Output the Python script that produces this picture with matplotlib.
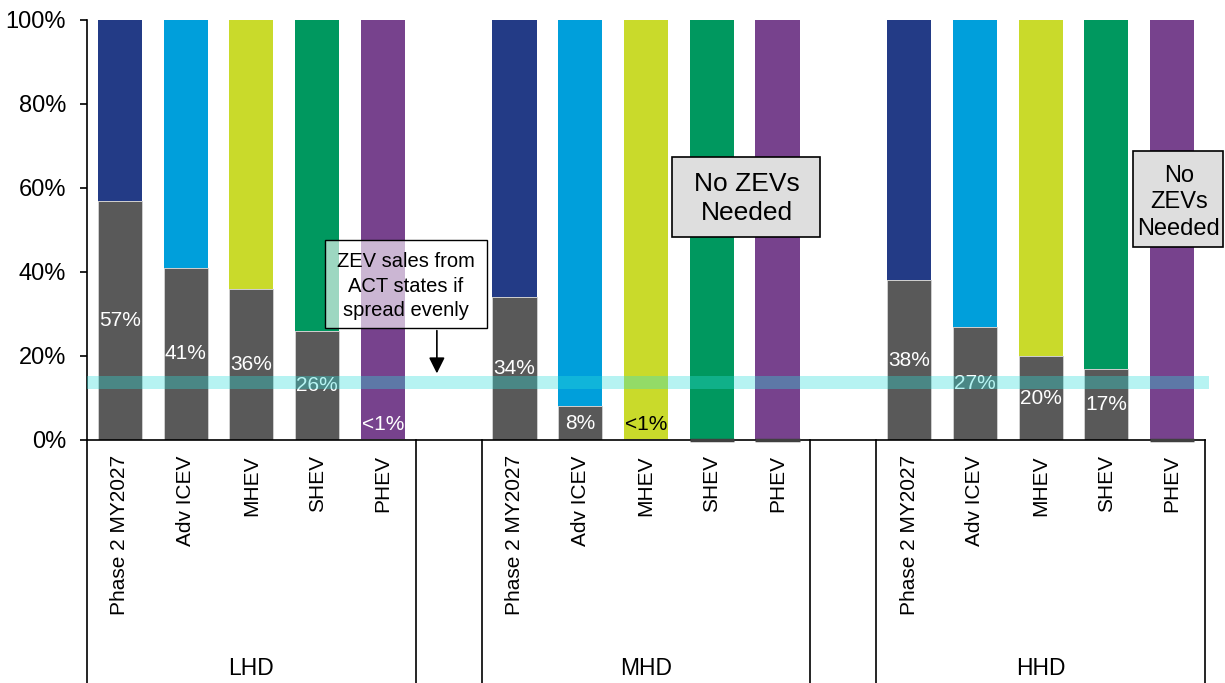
import matplotlib.pyplot as plt
import matplotlib.transforms as mtransforms
from matplotlib.patches import Rectangle
from matplotlib.ticker import FuncFormatter

plt.rcParams['font.family'] = ['Liberation Sans', 'DejaVu Sans']

# categories
groups = ['LHD', 'MHD', 'HHD']
techs = ['Phase 2 MY2027', 'Adv ICEV', 'MHEV', 'SHEV', 'PHEV']
tech_colors = ['#233b86', '#009fdb', '#c9da2b', '#00985f', '#77428d']

# ZEV share (%) per group, one value per tech
zev_lhd = [57, 41, 36, 26, 0.3]
zev_mhd = [34, 8, 0.3, 0, 0]
zev_hhd = [38, 27, 20, 17, 0]

lab_lhd = ['57%', '41%', '36%', '26%', '<1%']
lab_mhd = ['34%', '8%', '<1%', '', '']
lab_hhd = ['38%', '27%', '20%', '17%', '']

# ACT-state ZEV sales band (%)
act_low, act_high = 12.1, 15.2

zev_all = [zev_lhd, zev_mhd, zev_hhd]
lab_all = [lab_lhd, lab_mhd, lab_hhd]

fig = plt.figure(figsize=(12.25, 6.83), dpi=100)
ax = fig.add_axes([87 / 1225, 1 - 440 / 683, (1205 - 87) / 1225, 420 / 683])

gray = '#595959'
width = 0.67
xticks, xlabels = [], []
for g, (zev, labs) in enumerate(zip(zev_all, lab_all)):
    for i, (z, lab) in enumerate(zip(zev, labs)):
        x = g * 6 + i
        ax.bar(x, z, width, color=gray, edgecolor='#cfcfcf', linewidth=0.7, zorder=2)
        ax.bar(x, 100 - z, width, bottom=z, color=tech_colors[i], linewidth=0, zorder=2)
        if z == 0:
            # empty ZEV segment still leaves a thin dark base
            ax.plot([x - width / 2, x + width / 2], [0, 0], color='#404040', lw=2.5,
                    solid_capstyle='butt', clip_on=False, zorder=3)
        if lab:
            ypos = z / 2 if z >= 5 else 3.8
            col = 'black' if (g == 1 and i == 2) else 'white'
            ax.text(x, ypos, lab, ha='center', va='center', fontsize=15, color=col, zorder=4)
        xticks.append(x)
        xlabels.append(techs[i])

# translucent band for ACT-state ZEV sales
band = ax.axhspan(act_low, act_high, xmin=0, xmax=1.004, color='#2fdfda', alpha=0.35,
                  lw=0, zorder=5)
band.set_clip_on(False)

ax.set_xlim(-0.5, 16.5)
ax.set_ylim(0, 100)
ax.set_yticks(range(0, 101, 20))
ax.yaxis.set_major_formatter(FuncFormatter(lambda v, p: f'{v:.0f}%'))
ax.tick_params(axis='y', length=5, width=1.2, pad=10, labelsize=17, direction='out')
ax.set_xticks(xticks)
ax.set_xticklabels(xlabels, rotation=90, fontsize=15, va='top', ha='center')
ax.tick_params(axis='x', length=0, pad=11)
for s in ['top', 'right']:
    ax.spines[s].set_visible(False)
ax.spines['left'].set_linewidth(1.2)
ax.spines['bottom'].set_linewidth(1.2)

# group separators and group names below the axis
trans = mtransforms.blended_transform_factory(ax.transData, ax.transAxes)
for xs in [-0.5, 4.5, 5.5, 10.5, 11.5, 16.5]:
    ax.plot([xs, xs], [0, -0.6], transform=trans, color='black', lw=1.2, clip_on=False)
for g, name in enumerate(groups):
    ax.text(g * 6 + 2, -0.543, name, transform=trans, ha='center', va='center',
            fontsize=16.5)

# callout for the band
ax.add_patch(Rectangle((3.12, 26.7), 2.46, 20.9, facecolor=(1, 1, 1, 0.62),
                       edgecolor='black', lw=1, zorder=6))
ax.text(4.35, 36.6, 'ZEV sales from\nACT states if\nspread evenly', ha='center',
        va='center', fontsize=14.5, linespacing=1.37, zorder=7)
ax.annotate('', xy=(4.82, act_high), xytext=(4.82, 26.7),
            arrowprops=dict(arrowstyle='-|>', color='black', lw=1.2, mutation_scale=24),
            zorder=7)

# "No ZEVs Needed" notes
ax.add_patch(Rectangle((8.40, 48.3), 2.25, 19.1, facecolor='#dedede',
                       edgecolor='black', lw=1.2, zorder=6))
ax.text(9.53, 57.6, 'No ZEVs\nNeeded', ha='center', va='center', fontsize=19,
        linespacing=1.26, zorder=7)
ax.add_patch(Rectangle((15.41, 45.95), 1.37, 22.85, facecolor='#dedede',
                       edgecolor='black', lw=1.2, zorder=6, clip_on=False))
ax.text(16.1, 56.6, 'No\nZEVs\nNeeded', ha='center', va='center', fontsize=17,
        linespacing=1.28, zorder=7)

fig.savefig('out.png', dpi=100)
